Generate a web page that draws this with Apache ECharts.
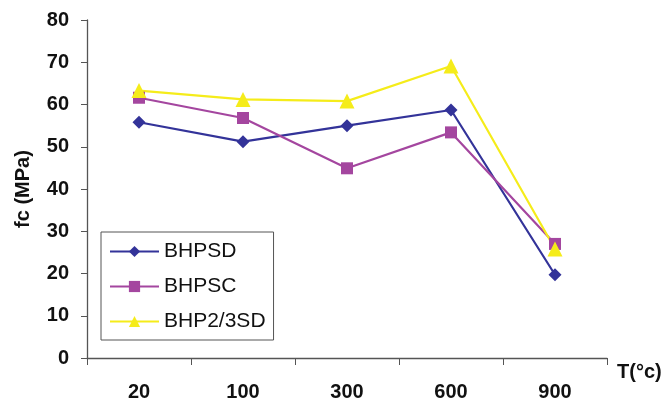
<!DOCTYPE html>
<html><head><meta charset="utf-8">
<script src="https://cdn.jsdelivr.net/npm/echarts@6/dist/echarts.min.js"></script>
<style>html,body{margin:0;padding:0;background:#fff}#c{width:664px;height:403px}</style>
</head><body><div id="c"></div>
<script>
const categories = ['20','100','300','600','900'];
const bhpsd = [55.8, 51.2, 55.0, 58.7, 19.7];
const bhpsc = [61.6, 56.8, 44.9, 53.4, 27.0];
const bhp23sd = [63.3, 61.2, 60.8, 69.1, 25.8];
const yTicks = [0, 80, 10];

const chart = echarts.init(document.getElementById('c'));
const font = 'Liberation Sans, Arial, sans-serif';
const axisLine = {show:true, lineStyle:{color:'#555', width:1.3}};
chart.setOption({
  animation:false,
  grid:{left:87, right:57, top:20, bottom:45, containLabel:false, outerBoundsMode:'none'},
  legend:{
    orient:'vertical', left:101, top:232, width:172, height:108,
    padding:[9,8,8,8], itemGap:14, itemWidth:49, itemHeight:14,
    borderColor:'#555', borderWidth:1, backgroundColor:'#fff',
    textStyle:{fontFamily:font, fontSize:21, color:'#111'},
    data:['BHPSD','BHPSC','BHP2/3SD']
  },
  xAxis:{
    type:'category', data:categories, boundaryGap:true,
    axisLine:axisLine, axisTick:{show:true, length:7, lineStyle:{color:'#555'}},
    axisLabel:{fontFamily:font, fontWeight:'bold', fontSize:20, color:'#111', margin:24},
    name:'T(°c)', nameLocation:'end', nameGap:10,
    nameTextStyle:{fontFamily:font, fontWeight:'bold', fontSize:20, color:'#111', verticalAlign:'top', padding:[4,0,0,0]},
    splitLine:{show:false}
  },
  yAxis:{
    type:'value', min:yTicks[0], max:yTicks[1], interval:yTicks[2],
    axisLine:axisLine, axisTick:{show:true, length:6, lineStyle:{color:'#555'}},
    axisLabel:{fontFamily:font, fontWeight:'bold', fontSize:20, color:'#111', margin:18},
    splitLine:{show:false},
    name:'fc (MPa)', nameLocation:'middle', nameGap:54, nameRotate:90,
    nameTextStyle:{fontFamily:font, fontWeight:'bold', fontSize:20, color:'#111'}
  },
  series:[
    {name:'BHPSD', type:'line', data:bhpsd, symbol:'diamond', symbolSize:13,
     itemStyle:{color:'#333399'}, lineStyle:{color:'#333399', width:2.2}},
    {name:'BHPSC', type:'line', data:bhpsc, symbol:'rect', symbolSize:12,
     itemStyle:{color:'#A4469F'}, lineStyle:{color:'#A4469F', width:2.2}},
    {name:'BHP2/3SD', type:'line', data:bhp23sd, symbol:'triangle', symbolSize:15,
     itemStyle:{color:'#F5EC1A'}, lineStyle:{color:'#F5EC1A', width:2.2}}
  ]
});
</script></body></html>
